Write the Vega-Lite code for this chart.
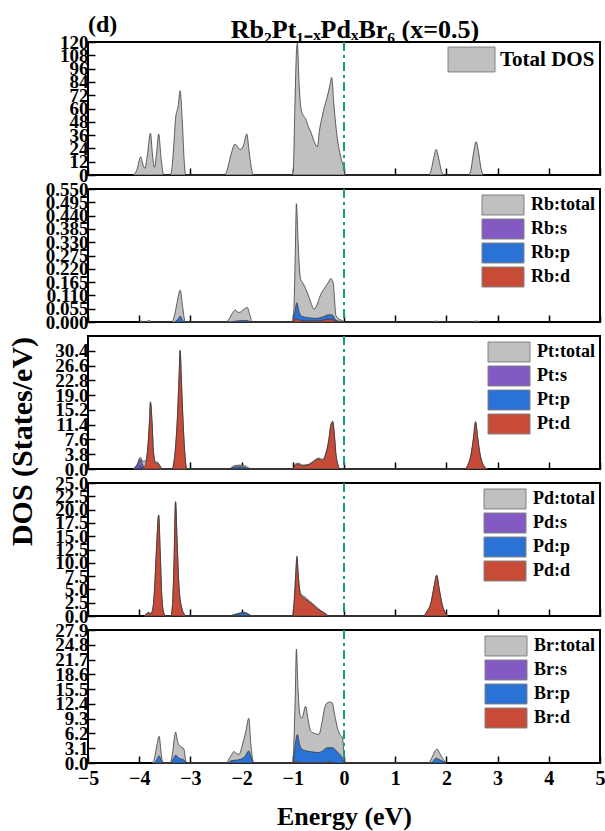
{
"$schema": "https://vega.github.io/schema/vega-lite/v6.json",
"padding": {"left": 5, "top": 12, "right": 3, "bottom": 5},
"bounds": "flush",
"spacing": 14,
"title": {"text": "Rb₂Pt₁₋ₓPdₓBr₆ (x=0.5)", "fontSize": 26, "fontWeight": "bold", "font": "Liberation Serif", "color": "black", "anchor": "middle", "offset": -31, "dx": 49},
"config": {
  "font": "Liberation Serif",
  "view": {"stroke": "black", "strokeWidth": 2},
  "axis": {"domain": false, "grid": false, "ticks": true, "tickColor": "black", "tickWidth": 1.5, "tickSize": -7, "labelFont": "Liberation Serif", "labelFontWeight": "bold", "labelFontSize": 19, "labelColor": "black", "labelOverlap": false, "labelFlush": false, "labelBound": false, "labelPadding": 7, "titleFont": "Liberation Serif", "titleFontWeight": "bold", "titleFontSize": 26, "titleColor": "black"},
  "axisX": {"labelFontSize": 20, "labelPadding": 12},
  "legend": {"labelFont": "Liberation Serif", "labelFontWeight": "bold", "labelFontSize": 18, "labelColor": "black", "symbolType": "M-2,-0.95H2V0.95H-2Z", "symbolSize": 441, "symbolStrokeColor": "#808080", "symbolStrokeWidth": 1, "symbolOpacity": 1, "rowPadding": 0, "labelOffset": 17, "padding": 0, "offset": 5, "orient": "top-right"},
  "title": {"font": "Liberation Serif", "fontWeight": "bold", "color": "black"}
},
"resolve": {"scale": {"color": "independent"}, "legend": {"color": "independent"}},
"datasets": {
  "zero": [{"e": 0}],
  "dos": [
{"k":"Total DOS","e":-4.12,"v":0},{"k":"Total DOS","e":-4.05,"v":4},{"k":"Total DOS","e":-3.97,"v":16.5},{"k":"Total DOS","e":-3.93,"v":10},{"k":"Total DOS","e":-3.89,"v":6},{"k":"Total DOS","e":-3.84,"v":18},{"k":"Total DOS","e":-3.78,"v":37.8},{"k":"Total DOS","e":-3.74,"v":18},{"k":"Total DOS","e":-3.70,"v":7},{"k":"Total DOS","e":-3.66,"v":20},{"k":"Total DOS","e":-3.62,"v":37},{"k":"Total DOS","e":-3.57,"v":14},{"k":"Total DOS","e":-3.52,"v":0},
{"k":"Total DOS","e":-3.40,"v":0},{"k":"Total DOS","e":-3.37,"v":3},{"k":"Total DOS","e":-3.32,"v":30},{"k":"Total DOS","e":-3.29,"v":51},{"k":"Total DOS","e":-3.24,"v":62},{"k":"Total DOS","e":-3.20,"v":76},{"k":"Total DOS","e":-3.16,"v":50},{"k":"Total DOS","e":-3.12,"v":12},{"k":"Total DOS","e":-3.09,"v":0},
{"k":"Total DOS","e":-2.33,"v":0},{"k":"Total DOS","e":-2.28,"v":5},{"k":"Total DOS","e":-2.21,"v":18},{"k":"Total DOS","e":-2.13,"v":27.7},{"k":"Total DOS","e":-2.07,"v":25},{"k":"Total DOS","e":-2.03,"v":23},{"k":"Total DOS","e":-1.96,"v":27},{"k":"Total DOS","e":-1.90,"v":37},{"k":"Total DOS","e":-1.85,"v":20},{"k":"Total DOS","e":-1.80,"v":4},{"k":"Total DOS","e":-1.77,"v":0},
{"k":"Total DOS","e":-1.01,"v":0},{"k":"Total DOS","e":-0.99,"v":5},{"k":"Total DOS","e":-0.96,"v":60},{"k":"Total DOS","e":-0.93,"v":110},{"k":"Total DOS","e":-0.91,"v":119},{"k":"Total DOS","e":-0.88,"v":85},{"k":"Total DOS","e":-0.84,"v":60},{"k":"Total DOS","e":-0.80,"v":54},{"k":"Total DOS","e":-0.75,"v":51},{"k":"Total DOS","e":-0.70,"v":44},{"k":"Total DOS","e":-0.65,"v":39},{"k":"Total DOS","e":-0.58,"v":30},{"k":"Total DOS","e":-0.52,"v":25.6},{"k":"Total DOS","e":-0.48,"v":40},{"k":"Total DOS","e":-0.43,"v":52},{"k":"Total DOS","e":-0.38,"v":62},{"k":"Total DOS","e":-0.33,"v":70},{"k":"Total DOS","e":-0.28,"v":80},{"k":"Total DOS","e":-0.24,"v":88},{"k":"Total DOS","e":-0.20,"v":65},{"k":"Total DOS","e":-0.16,"v":45},{"k":"Total DOS","e":-0.13,"v":33},{"k":"Total DOS","e":-0.08,"v":20},{"k":"Total DOS","e":-0.04,"v":12},{"k":"Total DOS","e":0,"v":6},{"k":"Total DOS","e":0.02,"v":0},
{"k":"Total DOS","e":1.65,"v":0},{"k":"Total DOS","e":1.70,"v":4},{"k":"Total DOS","e":1.75,"v":15},{"k":"Total DOS","e":1.80,"v":23},{"k":"Total DOS","e":1.85,"v":15},{"k":"Total DOS","e":1.90,"v":4},{"k":"Total DOS","e":1.95,"v":0},
{"k":"Total DOS","e":2.43,"v":0},{"k":"Total DOS","e":2.48,"v":5},{"k":"Total DOS","e":2.53,"v":20},{"k":"Total DOS","e":2.58,"v":30},{"k":"Total DOS","e":2.63,"v":20},{"k":"Total DOS","e":2.68,"v":5},{"k":"Total DOS","e":2.72,"v":0},

{"k":"Rb:total","e":-4.0,"v":0},{"k":"Rb:total","e":-3.95,"v":0.004},{"k":"Rb:total","e":-3.9,"v":0},{"k":"Rb:total","e":-3.8,"v":0.006},{"k":"Rb:total","e":-3.75,"v":0},
{"k":"Rb:total","e":-3.38,"v":0},{"k":"Rb:total","e":-3.32,"v":0.02},{"k":"Rb:total","e":-3.26,"v":0.08},{"k":"Rb:total","e":-3.20,"v":0.132},{"k":"Rb:total","e":-3.15,"v":0.06},{"k":"Rb:total","e":-3.10,"v":0},
{"k":"Rb:total","e":-2.30,"v":0},{"k":"Rb:total","e":-2.25,"v":0.01},{"k":"Rb:total","e":-2.17,"v":0.04},{"k":"Rb:total","e":-2.12,"v":0.049},{"k":"Rb:total","e":-2.07,"v":0.04},{"k":"Rb:total","e":-2.04,"v":0.04},{"k":"Rb:total","e":-1.96,"v":0.052},{"k":"Rb:total","e":-1.89,"v":0.06},{"k":"Rb:total","e":-1.84,"v":0.03},{"k":"Rb:total","e":-1.79,"v":0},
{"k":"Rb:total","e":-1.01,"v":0},{"k":"Rb:total","e":-0.98,"v":0.05},{"k":"Rb:total","e":-0.95,"v":0.3},{"k":"Rb:total","e":-0.93,"v":0.489},{"k":"Rb:total","e":-0.90,"v":0.35},{"k":"Rb:total","e":-0.87,"v":0.22},{"k":"Rb:total","e":-0.85,"v":0.18},{"k":"Rb:total","e":-0.80,"v":0.16},{"k":"Rb:total","e":-0.75,"v":0.139},{"k":"Rb:total","e":-0.68,"v":0.1},{"k":"Rb:total","e":-0.62,"v":0.065},{"k":"Rb:total","e":-0.59,"v":0.053},{"k":"Rb:total","e":-0.53,"v":0.07},{"k":"Rb:total","e":-0.46,"v":0.111},{"k":"Rb:total","e":-0.38,"v":0.14},{"k":"Rb:total","e":-0.30,"v":0.165},{"k":"Rb:total","e":-0.26,"v":0.18},{"k":"Rb:total","e":-0.21,"v":0.16},{"k":"Rb:total","e":-0.18,"v":0.08},{"k":"Rb:total","e":-0.16,"v":0.028},{"k":"Rb:total","e":-0.08,"v":0.01},{"k":"Rb:total","e":-0.03,"v":0.005},{"k":"Rb:total","e":0,"v":0},
{"k":"Rb:total","e":1.70,"v":0},{"k":"Rb:total","e":1.80,"v":0.004},{"k":"Rb:total","e":1.90,"v":0},{"k":"Rb:total","e":2.50,"v":0},{"k":"Rb:total","e":2.58,"v":0.004},{"k":"Rb:total","e":2.66,"v":0},
{"k":"Rb:s","e":-1.0,"v":0},{"k":"Rb:s","e":-0.93,"v":0.004},{"k":"Rb:s","e":-0.86,"v":0},
{"k":"Rb:p","e":-3.30,"v":0},{"k":"Rb:p","e":-3.24,"v":0.012},{"k":"Rb:p","e":-3.20,"v":0.024},{"k":"Rb:p","e":-3.16,"v":0.01},{"k":"Rb:p","e":-3.12,"v":0},
{"k":"Rb:p","e":-2.2,"v":0},{"k":"Rb:p","e":-2.12,"v":0.004},{"k":"Rb:p","e":-1.9,"v":0.006},{"k":"Rb:p","e":-1.8,"v":0},
{"k":"Rb:p","e":-1.0,"v":0},{"k":"Rb:p","e":-0.96,"v":0.04},{"k":"Rb:p","e":-0.92,"v":0.08},{"k":"Rb:p","e":-0.88,"v":0.045},{"k":"Rb:p","e":-0.84,"v":0.025},{"k":"Rb:p","e":-0.7,"v":0.018},{"k":"Rb:p","e":-0.55,"v":0.015},{"k":"Rb:p","e":-0.4,"v":0.022},{"k":"Rb:p","e":-0.3,"v":0.03},{"k":"Rb:p","e":-0.22,"v":0.028},{"k":"Rb:p","e":-0.17,"v":0.01},{"k":"Rb:p","e":-0.1,"v":0.003},{"k":"Rb:p","e":0,"v":0},
{"k":"Rb:d","e":-1.0,"v":0},{"k":"Rb:d","e":-0.95,"v":0.01},{"k":"Rb:d","e":-0.9,"v":0.012},{"k":"Rb:d","e":-0.85,"v":0.006},{"k":"Rb:d","e":-0.7,"v":0.004},{"k":"Rb:d","e":-0.5,"v":0.005},{"k":"Rb:d","e":-0.35,"v":0.01},{"k":"Rb:d","e":-0.28,"v":0.012},{"k":"Rb:d","e":-0.2,"v":0.008},{"k":"Rb:d","e":-0.15,"v":0.002},{"k":"Rb:d","e":-0.1,"v":0},

{"k":"Pt:total","e":-4.12,"v":0},{"k":"Pt:total","e":-4.04,"v":1.2},{"k":"Pt:total","e":-3.98,"v":3},{"k":"Pt:total","e":-3.93,"v":2},{"k":"Pt:total","e":-3.88,"v":2},{"k":"Pt:total","e":-3.84,"v":4.5},{"k":"Pt:total","e":-3.80,"v":12.3},{"k":"Pt:total","e":-3.78,"v":17.3},{"k":"Pt:total","e":-3.75,"v":12.3},{"k":"Pt:total","e":-3.72,"v":4.3},{"k":"Pt:total","e":-3.68,"v":1.8},{"k":"Pt:total","e":-3.65,"v":1.8},{"k":"Pt:total","e":-3.60,"v":1},{"k":"Pt:total","e":-3.55,"v":0},
{"k":"Pt:total","e":-3.36,"v":0},{"k":"Pt:total","e":-3.30,"v":4.2},{"k":"Pt:total","e":-3.25,"v":14.3},{"k":"Pt:total","e":-3.22,"v":24.3},{"k":"Pt:total","e":-3.20,"v":30.6},{"k":"Pt:total","e":-3.18,"v":24.3},{"k":"Pt:total","e":-3.15,"v":14.3},{"k":"Pt:total","e":-3.11,"v":4.2},{"k":"Pt:total","e":-3.07,"v":0},
{"k":"Pt:total","e":-2.25,"v":0},{"k":"Pt:total","e":-2.15,"v":0.8},{"k":"Pt:total","e":-2.05,"v":1.0},{"k":"Pt:total","e":-1.95,"v":0.9},{"k":"Pt:total","e":-1.85,"v":0.2},{"k":"Pt:total","e":-1.8,"v":0},
{"k":"Pt:total","e":-1.0,"v":0},{"k":"Pt:total","e":-0.95,"v":1.3},{"k":"Pt:total","e":-0.9,"v":1.5},{"k":"Pt:total","e":-0.8,"v":1.0},{"k":"Pt:total","e":-0.7,"v":1.2},{"k":"Pt:total","e":-0.6,"v":2.0},{"k":"Pt:total","e":-0.5,"v":2.8},{"k":"Pt:total","e":-0.42,"v":2.5},{"k":"Pt:total","e":-0.35,"v":4.3},{"k":"Pt:total","e":-0.3,"v":7.3},{"k":"Pt:total","e":-0.25,"v":11.8},{"k":"Pt:total","e":-0.22,"v":12.3},{"k":"Pt:total","e":-0.19,"v":9.3},{"k":"Pt:total","e":-0.16,"v":4.2},{"k":"Pt:total","e":-0.12,"v":1.2},{"k":"Pt:total","e":-0.08,"v":0},
{"k":"Pt:total","e":2.35,"v":0},{"k":"Pt:total","e":2.42,"v":1.1},{"k":"Pt:total","e":2.48,"v":3.7},{"k":"Pt:total","e":2.53,"v":8.2},{"k":"Pt:total","e":2.57,"v":12.2},{"k":"Pt:total","e":2.61,"v":8.2},{"k":"Pt:total","e":2.66,"v":3.7},{"k":"Pt:total","e":2.72,"v":1.1},{"k":"Pt:total","e":2.80,"v":0},
{"k":"Pt:s","e":-4.10,"v":0},{"k":"Pt:s","e":-4.04,"v":1},{"k":"Pt:s","e":-3.98,"v":2.5},{"k":"Pt:s","e":-3.93,"v":1},{"k":"Pt:s","e":-3.88,"v":0},{"k":"Pt:s","e":-2.15,"v":0},{"k":"Pt:s","e":-2.05,"v":0.3},{"k":"Pt:s","e":-1.95,"v":0},
{"k":"Pt:p","e":-4.05,"v":0},{"k":"Pt:p","e":-3.98,"v":0.8},{"k":"Pt:p","e":-3.90,"v":0},{"k":"Pt:p","e":-2.25,"v":0},{"k":"Pt:p","e":-2.15,"v":0.5},{"k":"Pt:p","e":-2.05,"v":0.6},{"k":"Pt:p","e":-1.95,"v":0.5},{"k":"Pt:p","e":-1.85,"v":0},{"k":"Pt:p","e":-0.95,"v":0},{"k":"Pt:p","e":-0.9,"v":0.3},{"k":"Pt:p","e":-0.8,"v":0},
{"k":"Pt:d","e":-4.0,"v":0},{"k":"Pt:d","e":-3.9,"v":0.5},{"k":"Pt:d","e":-3.84,"v":4},{"k":"Pt:d","e":-3.80,"v":12},{"k":"Pt:d","e":-3.78,"v":17},{"k":"Pt:d","e":-3.75,"v":12},{"k":"Pt:d","e":-3.72,"v":4},{"k":"Pt:d","e":-3.68,"v":1.5},{"k":"Pt:d","e":-3.65,"v":1.5},{"k":"Pt:d","e":-3.60,"v":0.8},{"k":"Pt:d","e":-3.55,"v":0},
{"k":"Pt:d","e":-3.36,"v":0},{"k":"Pt:d","e":-3.30,"v":4},{"k":"Pt:d","e":-3.25,"v":14},{"k":"Pt:d","e":-3.22,"v":24},{"k":"Pt:d","e":-3.20,"v":30.3},{"k":"Pt:d","e":-3.18,"v":24},{"k":"Pt:d","e":-3.15,"v":14},{"k":"Pt:d","e":-3.11,"v":4},{"k":"Pt:d","e":-3.07,"v":0},
{"k":"Pt:d","e":-1.0,"v":0},{"k":"Pt:d","e":-0.95,"v":1.0},{"k":"Pt:d","e":-0.9,"v":1.2},{"k":"Pt:d","e":-0.8,"v":0.8},{"k":"Pt:d","e":-0.7,"v":1.0},{"k":"Pt:d","e":-0.6,"v":1.8},{"k":"Pt:d","e":-0.5,"v":2.5},{"k":"Pt:d","e":-0.42,"v":2.2},{"k":"Pt:d","e":-0.35,"v":4},{"k":"Pt:d","e":-0.3,"v":7},{"k":"Pt:d","e":-0.25,"v":11.5},{"k":"Pt:d","e":-0.22,"v":12},{"k":"Pt:d","e":-0.19,"v":9},{"k":"Pt:d","e":-0.16,"v":4},{"k":"Pt:d","e":-0.12,"v":1},{"k":"Pt:d","e":-0.08,"v":0},
{"k":"Pt:d","e":2.35,"v":0},{"k":"Pt:d","e":2.42,"v":1},{"k":"Pt:d","e":2.48,"v":3.5},{"k":"Pt:d","e":2.53,"v":8},{"k":"Pt:d","e":2.57,"v":12},{"k":"Pt:d","e":2.61,"v":8},{"k":"Pt:d","e":2.66,"v":3.5},{"k":"Pt:d","e":2.72,"v":1},{"k":"Pt:d","e":2.80,"v":0},

{"k":"Pd:total","e":-3.9,"v":0},{"k":"Pd:total","e":-3.85,"v":0.5},{"k":"Pd:total","e":-3.82,"v":0.7},{"k":"Pd:total","e":-3.78,"v":0.5},{"k":"Pd:total","e":-3.74,"v":1.1},{"k":"Pd:total","e":-3.70,"v":5.1},{"k":"Pd:total","e":-3.66,"v":13.1},{"k":"Pd:total","e":-3.62,"v":19},{"k":"Pd:total","e":-3.59,"v":12.1},{"k":"Pd:total","e":-3.56,"v":4.1},{"k":"Pd:total","e":-3.52,"v":0.6},{"k":"Pd:total","e":-3.48,"v":0},
{"k":"Pd:total","e":-3.38,"v":0},{"k":"Pd:total","e":-3.35,"v":2.1},{"k":"Pd:total","e":-3.32,"v":10.1},{"k":"Pd:total","e":-3.29,"v":21.5},{"k":"Pd:total","e":-3.26,"v":14.1},{"k":"Pd:total","e":-3.22,"v":5.1},{"k":"Pd:total","e":-3.17,"v":1.6},{"k":"Pd:total","e":-3.12,"v":0.4},{"k":"Pd:total","e":-3.09,"v":0},
{"k":"Pd:total","e":-2.25,"v":0},{"k":"Pd:total","e":-2.1,"v":0.4},{"k":"Pd:total","e":-1.95,"v":0.7},{"k":"Pd:total","e":-1.85,"v":0.3},{"k":"Pd:total","e":-1.8,"v":0},
{"k":"Pd:total","e":-1.0,"v":0},{"k":"Pd:total","e":-0.97,"v":3.3},{"k":"Pd:total","e":-0.94,"v":8.4},{"k":"Pd:total","e":-0.92,"v":11.3},{"k":"Pd:total","e":-0.89,"v":7.3},{"k":"Pd:total","e":-0.85,"v":4.3},{"k":"Pd:total","e":-0.80,"v":3.8},{"k":"Pd:total","e":-0.75,"v":3.5},{"k":"Pd:total","e":-0.70,"v":3.0},{"k":"Pd:total","e":-0.62,"v":2.4},{"k":"Pd:total","e":-0.55,"v":1.8},{"k":"Pd:total","e":-0.45,"v":1.0},{"k":"Pd:total","e":-0.35,"v":0.4},{"k":"Pd:total","e":-0.3,"v":0},
{"k":"Pd:total","e":1.55,"v":0},{"k":"Pd:total","e":1.62,"v":0.9},{"k":"Pd:total","e":1.70,"v":2.6},{"k":"Pd:total","e":1.76,"v":5.6},{"k":"Pd:total","e":1.81,"v":7.7},{"k":"Pd:total","e":1.86,"v":5.1},{"k":"Pd:total","e":1.92,"v":2.1},{"k":"Pd:total","e":1.98,"v":0.6},{"k":"Pd:total","e":2.02,"v":0},
{"k":"Pd:s","e":-1.0,"v":0},{"k":"Pd:s","e":-0.93,"v":0.2},{"k":"Pd:s","e":-0.85,"v":0},
{"k":"Pd:p","e":-2.25,"v":0},{"k":"Pd:p","e":-2.1,"v":0.3},{"k":"Pd:p","e":-1.95,"v":0.6},{"k":"Pd:p","e":-1.85,"v":0.2},{"k":"Pd:p","e":-1.8,"v":0},{"k":"Pd:p","e":-1.0,"v":0},{"k":"Pd:p","e":-0.93,"v":0.3},{"k":"Pd:p","e":-0.85,"v":0},
{"k":"Pd:d","e":-3.9,"v":0},{"k":"Pd:d","e":-3.85,"v":0.4},{"k":"Pd:d","e":-3.82,"v":0.6},{"k":"Pd:d","e":-3.78,"v":0.4},{"k":"Pd:d","e":-3.74,"v":1},{"k":"Pd:d","e":-3.70,"v":5},{"k":"Pd:d","e":-3.66,"v":13},{"k":"Pd:d","e":-3.62,"v":18.9},{"k":"Pd:d","e":-3.59,"v":12},{"k":"Pd:d","e":-3.56,"v":4},{"k":"Pd:d","e":-3.52,"v":0.5},{"k":"Pd:d","e":-3.48,"v":0},
{"k":"Pd:d","e":-3.38,"v":0},{"k":"Pd:d","e":-3.35,"v":2},{"k":"Pd:d","e":-3.32,"v":10},{"k":"Pd:d","e":-3.29,"v":21.4},{"k":"Pd:d","e":-3.26,"v":14},{"k":"Pd:d","e":-3.22,"v":5},{"k":"Pd:d","e":-3.17,"v":1.5},{"k":"Pd:d","e":-3.12,"v":0.3},{"k":"Pd:d","e":-3.09,"v":0},
{"k":"Pd:d","e":-1.0,"v":0},{"k":"Pd:d","e":-0.97,"v":3},{"k":"Pd:d","e":-0.94,"v":8},{"k":"Pd:d","e":-0.92,"v":10.9},{"k":"Pd:d","e":-0.89,"v":7},{"k":"Pd:d","e":-0.85,"v":4},{"k":"Pd:d","e":-0.80,"v":3.5},{"k":"Pd:d","e":-0.75,"v":3.2},{"k":"Pd:d","e":-0.70,"v":2.8},{"k":"Pd:d","e":-0.62,"v":2.2},{"k":"Pd:d","e":-0.55,"v":1.6},{"k":"Pd:d","e":-0.45,"v":0.9},{"k":"Pd:d","e":-0.35,"v":0.3},{"k":"Pd:d","e":-0.3,"v":0},
{"k":"Pd:d","e":1.55,"v":0},{"k":"Pd:d","e":1.62,"v":0.8},{"k":"Pd:d","e":1.70,"v":2.5},{"k":"Pd:d","e":1.76,"v":5.5},{"k":"Pd:d","e":1.81,"v":7.6},{"k":"Pd:d","e":1.86,"v":5},{"k":"Pd:d","e":1.92,"v":2},{"k":"Pd:d","e":1.98,"v":0.5},{"k":"Pd:d","e":2.02,"v":0},

{"k":"Br:total","e":-3.75,"v":0},{"k":"Br:total","e":-3.70,"v":1},{"k":"Br:total","e":-3.65,"v":4},{"k":"Br:total","e":-3.61,"v":5.6},{"k":"Br:total","e":-3.58,"v":3},{"k":"Br:total","e":-3.55,"v":0.5},{"k":"Br:total","e":-3.52,"v":0},
{"k":"Br:total","e":-3.40,"v":0},{"k":"Br:total","e":-3.35,"v":2},{"k":"Br:total","e":-3.31,"v":5.5},{"k":"Br:total","e":-3.29,"v":6.5},{"k":"Br:total","e":-3.25,"v":4.5},{"k":"Br:total","e":-3.20,"v":3.5},{"k":"Br:total","e":-3.13,"v":3.0},{"k":"Br:total","e":-3.09,"v":0.5},{"k":"Br:total","e":-3.07,"v":0},
{"k":"Br:total","e":-2.30,"v":0},{"k":"Br:total","e":-2.25,"v":0.8},{"k":"Br:total","e":-2.18,"v":2.0},{"k":"Br:total","e":-2.15,"v":2.4},{"k":"Br:total","e":-2.10,"v":2.0},{"k":"Br:total","e":-2.05,"v":1.8},{"k":"Br:total","e":-1.98,"v":4},{"k":"Br:total","e":-1.92,"v":6.5},{"k":"Br:total","e":-1.86,"v":9.4},{"k":"Br:total","e":-1.82,"v":4},{"k":"Br:total","e":-1.78,"v":0.5},{"k":"Br:total","e":-1.76,"v":0},
{"k":"Br:total","e":-1.00,"v":0},{"k":"Br:total","e":-0.98,"v":4},{"k":"Br:total","e":-0.95,"v":15},{"k":"Br:total","e":-0.93,"v":23.9},{"k":"Br:total","e":-0.90,"v":16},{"k":"Br:total","e":-0.86,"v":10},{"k":"Br:total","e":-0.82,"v":9.4},{"k":"Br:total","e":-0.75,"v":11.9},{"k":"Br:total","e":-0.70,"v":9},{"k":"Br:total","e":-0.65,"v":6.7},{"k":"Br:total","e":-0.57,"v":6.2},{"k":"Br:total","e":-0.49,"v":6.0},{"k":"Br:total","e":-0.43,"v":8.5},{"k":"Br:total","e":-0.38,"v":11.5},{"k":"Br:total","e":-0.33,"v":12.6},{"k":"Br:total","e":-0.28,"v":12.8},{"k":"Br:total","e":-0.23,"v":12.6},{"k":"Br:total","e":-0.18,"v":10},{"k":"Br:total","e":-0.13,"v":7.4},{"k":"Br:total","e":-0.08,"v":6},{"k":"Br:total","e":-0.03,"v":5.3},{"k":"Br:total","e":0,"v":2},{"k":"Br:total","e":0.02,"v":0},
{"k":"Br:total","e":1.65,"v":0},{"k":"Br:total","e":1.72,"v":1.2},{"k":"Br:total","e":1.78,"v":2.6},{"k":"Br:total","e":1.82,"v":2.9},{"k":"Br:total","e":1.87,"v":2},{"k":"Br:total","e":1.95,"v":0.6},{"k":"Br:total","e":2.0,"v":0},
{"k":"Br:s","e":-3.70,"v":0},{"k":"Br:s","e":-3.63,"v":0.15},{"k":"Br:s","e":-3.56,"v":0},{"k":"Br:s","e":-3.35,"v":0},{"k":"Br:s","e":-3.29,"v":0.2},{"k":"Br:s","e":-3.22,"v":0},
{"k":"Br:p","e":-3.70,"v":0},{"k":"Br:p","e":-3.65,"v":0.8},{"k":"Br:p","e":-3.61,"v":1.5},{"k":"Br:p","e":-3.57,"v":0.6},{"k":"Br:p","e":-3.53,"v":0},
{"k":"Br:p","e":-3.38,"v":0},{"k":"Br:p","e":-3.33,"v":1},{"k":"Br:p","e":-3.29,"v":1.6},{"k":"Br:p","e":-3.22,"v":1.0},{"k":"Br:p","e":-3.12,"v":0.6},{"k":"Br:p","e":-3.07,"v":0},
{"k":"Br:p","e":-2.28,"v":0},{"k":"Br:p","e":-2.2,"v":0.5},{"k":"Br:p","e":-2.1,"v":0.6},{"k":"Br:p","e":-1.95,"v":1.2},{"k":"Br:p","e":-1.86,"v":2.5},{"k":"Br:p","e":-1.80,"v":0.8},{"k":"Br:p","e":-1.76,"v":0},
{"k":"Br:p","e":-1.0,"v":0},{"k":"Br:p","e":-0.97,"v":2},{"k":"Br:p","e":-0.95,"v":4},{"k":"Br:p","e":-0.91,"v":6.0},{"k":"Br:p","e":-0.87,"v":4},{"k":"Br:p","e":-0.82,"v":2.9},{"k":"Br:p","e":-0.72,"v":2.5},{"k":"Br:p","e":-0.6,"v":2.3},{"k":"Br:p","e":-0.49,"v":2.2},{"k":"Br:p","e":-0.40,"v":2.7},{"k":"Br:p","e":-0.33,"v":3.2},{"k":"Br:p","e":-0.23,"v":3.2},{"k":"Br:p","e":-0.12,"v":2.2},{"k":"Br:p","e":-0.03,"v":1.0},{"k":"Br:p","e":0,"v":0.3},{"k":"Br:p","e":0.02,"v":0},
{"k":"Br:p","e":1.7,"v":0},{"k":"Br:p","e":1.8,"v":1.0},{"k":"Br:p","e":1.9,"v":0.5},{"k":"Br:p","e":2.0,"v":0},
{"k":"Br:d","e":-1.0,"v":0},{"k":"Br:d","e":-0.93,"v":0.3},{"k":"Br:d","e":-0.85,"v":0},{"k":"Br:d","e":-0.4,"v":0},{"k":"Br:d","e":-0.3,"v":0.2},{"k":"Br:d","e":-0.2,"v":0}
  ]
},
"vconcat": [
  {
    "width": 512, "height": 133,
    "title": {"text": "(d)", "anchor": "start", "frame": "group", "fontSize": 24, "offset": -4, "dx": 0},
    "layer": [
      {"data": {"name": "dos"}, "transform": [{"filter": {"field": "k", "equal": "Total DOS"}}],
       "mark": {"type": "area", "interpolate": "monotone", "stroke": "#3a3a3a", "strokeWidth": 0.8},
       "encoding": {
         "x": {"field": "e", "type": "quantitative", "scale": {"domain": [-5, 5]}, "axis": {"values": [-5,-4,-3,-2,-1,0,1,2,3,4,5], "labels": false, "title": null}},
         "y": {"field": "v", "type": "quantitative", "scale": {"domain": [0, 120]}, "axis": {"values": [0,12,24,36,48,60,72,84,96,108,120], "format": "d", "title": null}},
         "color": {"field": "k", "type": "nominal", "scale": {"domain": ["Total DOS"], "range": ["#C0C0C0"]}, "legend": {"title": null, "symbolType": "M-2,-1.06H2V1.06H-2Z", "symbolSize": 552, "labelFontSize": 21, "labelOffset": 16}}
       }},
      {"data": {"name": "zero"}, "mark": {"type": "rule", "color": "#179C82", "strokeWidth": 2, "strokeDash": [9, 4, 3, 4]},
       "encoding": {"x": {"field": "e", "type": "quantitative", "scale": {"domain": [-5, 5]}, "axis": {"values": [-5,-4,-3,-2,-1,0,1,2,3,4,5], "labels": false, "title": null}}}}
    ]
  },
  {
    "width": 512, "height": 133,
    "layer": [
      {"data": {"name": "dos"}, "transform": [{"filter": {"field": "k", "equal": "Rb:total"}}],
       "mark": {"type": "area", "interpolate": "monotone", "stroke": "#3a3a3a", "strokeWidth": 0.8},
       "encoding": {
         "x": {"field": "e", "type": "quantitative", "scale": {"domain": [-5, 5]}, "axis": {"values": [-5,-4,-3,-2,-1,0,1,2,3,4,5], "labels": false, "title": null}},
         "y": {"field": "v", "type": "quantitative", "scale": {"domain": [0, 0.55]}, "axis": {"values": [0,0.055,0.11,0.165,0.22,0.275,0.33,0.385,0.44,0.495,0.55], "format": ".3f", "title": null}},
         "color": {"field": "k", "type": "nominal", "scale": {"domain": ["Rb:total","Rb:s","Rb:p","Rb:d"], "range": ["#C0C0C0","#835AC4","#2A72D6","#C84B38"]}, "legend": {"title": null}}
       }},
      {"data": {"name": "dos"}, "transform": [{"filter": {"field": "k", "equal": "Rb:s"}}],
       "mark": {"type": "area", "interpolate": "monotone", "stroke": "#3a3a3a", "strokeWidth": 0.8},
       "encoding": {"x": {"field": "e", "type": "quantitative", "scale": {"domain": [-5, 5]}, "axis": {"values": [-5,-4,-3,-2,-1,0,1,2,3,4,5], "labels": false, "title": null}}, "y": {"field": "v", "type": "quantitative", "scale": {"domain": [0, 0.55]}, "axis": {"values": [0,0.055,0.11,0.165,0.22,0.275,0.33,0.385,0.44,0.495,0.55], "format": ".3f", "title": null}}, "color": {"field": "k", "type": "nominal", "scale": {"domain": ["Rb:total","Rb:s","Rb:p","Rb:d"], "range": ["#C0C0C0","#835AC4","#2A72D6","#C84B38"]}, "legend": {"title": null}}}},
      {"data": {"name": "dos"}, "transform": [{"filter": {"field": "k", "equal": "Rb:p"}}],
       "mark": {"type": "area", "interpolate": "monotone", "stroke": "#3a3a3a", "strokeWidth": 0.8},
       "encoding": {"x": {"field": "e", "type": "quantitative", "scale": {"domain": [-5, 5]}, "axis": {"values": [-5,-4,-3,-2,-1,0,1,2,3,4,5], "labels": false, "title": null}}, "y": {"field": "v", "type": "quantitative", "scale": {"domain": [0, 0.55]}, "axis": {"values": [0,0.055,0.11,0.165,0.22,0.275,0.33,0.385,0.44,0.495,0.55], "format": ".3f", "title": null}}, "color": {"field": "k", "type": "nominal", "scale": {"domain": ["Rb:total","Rb:s","Rb:p","Rb:d"], "range": ["#C0C0C0","#835AC4","#2A72D6","#C84B38"]}, "legend": {"title": null}}}},
      {"data": {"name": "dos"}, "transform": [{"filter": {"field": "k", "equal": "Rb:d"}}],
       "mark": {"type": "area", "interpolate": "monotone", "stroke": "#3a3a3a", "strokeWidth": 0.8},
       "encoding": {"x": {"field": "e", "type": "quantitative", "scale": {"domain": [-5, 5]}, "axis": {"values": [-5,-4,-3,-2,-1,0,1,2,3,4,5], "labels": false, "title": null}}, "y": {"field": "v", "type": "quantitative", "scale": {"domain": [0, 0.55]}, "axis": {"values": [0,0.055,0.11,0.165,0.22,0.275,0.33,0.385,0.44,0.495,0.55], "format": ".3f", "title": null}}, "color": {"field": "k", "type": "nominal", "scale": {"domain": ["Rb:total","Rb:s","Rb:p","Rb:d"], "range": ["#C0C0C0","#835AC4","#2A72D6","#C84B38"]}, "legend": {"title": null}}}},
      {"data": {"name": "zero"}, "mark": {"type": "rule", "color": "#179C82", "strokeWidth": 2, "strokeDash": [9, 4, 3, 4]},
       "encoding": {"x": {"field": "e", "type": "quantitative", "scale": {"domain": [-5, 5]}, "axis": {"values": [-5,-4,-3,-2,-1,0,1,2,3,4,5], "labels": false, "title": null}}}}
    ]
  },
  {
    "width": 512, "height": 133,
    "layer": [
      {"data": {"name": "dos"}, "transform": [{"filter": {"field": "k", "equal": "Pt:total"}}],
       "mark": {"type": "area", "interpolate": "monotone", "stroke": "#3a3a3a", "strokeWidth": 0.8},
       "encoding": {
         "x": {"field": "e", "type": "quantitative", "scale": {"domain": [-5, 5]}, "axis": {"values": [-5,-4,-3,-2,-1,0,1,2,3,4,5], "labels": false, "title": null}},
         "y": {"field": "v", "type": "quantitative", "scale": {"domain": [0, 34.2]}, "axis": {"values": [0,3.8,7.6,11.4,15.2,19,22.8,26.6,30.4], "format": ".1f", "title": "DOS (States/eV)", "titleFontSize": 30, "titleX": -51, "titleY": 105}},
         "color": {"field": "k", "type": "nominal", "scale": {"domain": ["Pt:total","Pt:s","Pt:p","Pt:d"], "range": ["#C0C0C0","#835AC4","#2A72D6","#C84B38"]}, "legend": {"title": null}}
       }},
      {"data": {"name": "dos"}, "transform": [{"filter": {"field": "k", "equal": "Pt:s"}}],
       "mark": {"type": "area", "interpolate": "monotone", "stroke": "#3a3a3a", "strokeWidth": 0.8},
       "encoding": {"x": {"field": "e", "type": "quantitative", "scale": {"domain": [-5, 5]}, "axis": {"values": [-5,-4,-3,-2,-1,0,1,2,3,4,5], "labels": false, "title": null}}, "y": {"field": "v", "type": "quantitative", "scale": {"domain": [0, 34.2]}, "axis": {"values": [0,3.8,7.6,11.4,15.2,19,22.8,26.6,30.4], "format": ".1f", "title": "DOS (States/eV)", "titleFontSize": 30, "titleX": -51, "titleY": 105}}, "color": {"field": "k", "type": "nominal", "scale": {"domain": ["Pt:total","Pt:s","Pt:p","Pt:d"], "range": ["#C0C0C0","#835AC4","#2A72D6","#C84B38"]}, "legend": {"title": null}}}},
      {"data": {"name": "dos"}, "transform": [{"filter": {"field": "k", "equal": "Pt:p"}}],
       "mark": {"type": "area", "interpolate": "monotone", "stroke": "#3a3a3a", "strokeWidth": 0.8},
       "encoding": {"x": {"field": "e", "type": "quantitative", "scale": {"domain": [-5, 5]}, "axis": {"values": [-5,-4,-3,-2,-1,0,1,2,3,4,5], "labels": false, "title": null}}, "y": {"field": "v", "type": "quantitative", "scale": {"domain": [0, 34.2]}, "axis": {"values": [0,3.8,7.6,11.4,15.2,19,22.8,26.6,30.4], "format": ".1f", "title": "DOS (States/eV)", "titleFontSize": 30, "titleX": -51, "titleY": 105}}, "color": {"field": "k", "type": "nominal", "scale": {"domain": ["Pt:total","Pt:s","Pt:p","Pt:d"], "range": ["#C0C0C0","#835AC4","#2A72D6","#C84B38"]}, "legend": {"title": null}}}},
      {"data": {"name": "dos"}, "transform": [{"filter": {"field": "k", "equal": "Pt:d"}}],
       "mark": {"type": "area", "interpolate": "monotone", "stroke": "#3a3a3a", "strokeWidth": 0.8},
       "encoding": {"x": {"field": "e", "type": "quantitative", "scale": {"domain": [-5, 5]}, "axis": {"values": [-5,-4,-3,-2,-1,0,1,2,3,4,5], "labels": false, "title": null}}, "y": {"field": "v", "type": "quantitative", "scale": {"domain": [0, 34.2]}, "axis": {"values": [0,3.8,7.6,11.4,15.2,19,22.8,26.6,30.4], "format": ".1f", "title": "DOS (States/eV)", "titleFontSize": 30, "titleX": -51, "titleY": 105}}, "color": {"field": "k", "type": "nominal", "scale": {"domain": ["Pt:total","Pt:s","Pt:p","Pt:d"], "range": ["#C0C0C0","#835AC4","#2A72D6","#C84B38"]}, "legend": {"title": null}}}},
      {"data": {"name": "zero"}, "mark": {"type": "rule", "color": "#179C82", "strokeWidth": 2, "strokeDash": [9, 4, 3, 4]},
       "encoding": {"x": {"field": "e", "type": "quantitative", "scale": {"domain": [-5, 5]}, "axis": {"values": [-5,-4,-3,-2,-1,0,1,2,3,4,5], "labels": false, "title": null}}}}
    ]
  },
  {
    "width": 512, "height": 133,
    "layer": [
      {"data": {"name": "dos"}, "transform": [{"filter": {"field": "k", "equal": "Pd:total"}}],
       "mark": {"type": "area", "interpolate": "monotone", "stroke": "#3a3a3a", "strokeWidth": 0.8},
       "encoding": {
         "x": {"field": "e", "type": "quantitative", "scale": {"domain": [-5, 5]}, "axis": {"values": [-5,-4,-3,-2,-1,0,1,2,3,4,5], "labels": false, "title": null}},
         "y": {"field": "v", "type": "quantitative", "scale": {"domain": [0, 25]}, "axis": {"values": [0,2.5,5,7.5,10,12.5,15,17.5,20,22.5,25], "format": ".1f", "title": null}},
         "color": {"field": "k", "type": "nominal", "scale": {"domain": ["Pd:total","Pd:s","Pd:p","Pd:d"], "range": ["#C0C0C0","#835AC4","#2A72D6","#C84B38"]}, "legend": {"title": null}}
       }},
      {"data": {"name": "dos"}, "transform": [{"filter": {"field": "k", "equal": "Pd:s"}}],
       "mark": {"type": "area", "interpolate": "monotone", "stroke": "#3a3a3a", "strokeWidth": 0.8},
       "encoding": {"x": {"field": "e", "type": "quantitative", "scale": {"domain": [-5, 5]}, "axis": {"values": [-5,-4,-3,-2,-1,0,1,2,3,4,5], "labels": false, "title": null}}, "y": {"field": "v", "type": "quantitative", "scale": {"domain": [0, 25]}, "axis": {"values": [0,2.5,5,7.5,10,12.5,15,17.5,20,22.5,25], "format": ".1f", "title": null}}, "color": {"field": "k", "type": "nominal", "scale": {"domain": ["Pd:total","Pd:s","Pd:p","Pd:d"], "range": ["#C0C0C0","#835AC4","#2A72D6","#C84B38"]}, "legend": {"title": null}}}},
      {"data": {"name": "dos"}, "transform": [{"filter": {"field": "k", "equal": "Pd:p"}}],
       "mark": {"type": "area", "interpolate": "monotone", "stroke": "#3a3a3a", "strokeWidth": 0.8},
       "encoding": {"x": {"field": "e", "type": "quantitative", "scale": {"domain": [-5, 5]}, "axis": {"values": [-5,-4,-3,-2,-1,0,1,2,3,4,5], "labels": false, "title": null}}, "y": {"field": "v", "type": "quantitative", "scale": {"domain": [0, 25]}, "axis": {"values": [0,2.5,5,7.5,10,12.5,15,17.5,20,22.5,25], "format": ".1f", "title": null}}, "color": {"field": "k", "type": "nominal", "scale": {"domain": ["Pd:total","Pd:s","Pd:p","Pd:d"], "range": ["#C0C0C0","#835AC4","#2A72D6","#C84B38"]}, "legend": {"title": null}}}},
      {"data": {"name": "dos"}, "transform": [{"filter": {"field": "k", "equal": "Pd:d"}}],
       "mark": {"type": "area", "interpolate": "monotone", "stroke": "#3a3a3a", "strokeWidth": 0.8},
       "encoding": {"x": {"field": "e", "type": "quantitative", "scale": {"domain": [-5, 5]}, "axis": {"values": [-5,-4,-3,-2,-1,0,1,2,3,4,5], "labels": false, "title": null}}, "y": {"field": "v", "type": "quantitative", "scale": {"domain": [0, 25]}, "axis": {"values": [0,2.5,5,7.5,10,12.5,15,17.5,20,22.5,25], "format": ".1f", "title": null}}, "color": {"field": "k", "type": "nominal", "scale": {"domain": ["Pd:total","Pd:s","Pd:p","Pd:d"], "range": ["#C0C0C0","#835AC4","#2A72D6","#C84B38"]}, "legend": {"title": null}}}},
      {"data": {"name": "zero"}, "mark": {"type": "rule", "color": "#179C82", "strokeWidth": 2, "strokeDash": [9, 4, 3, 4]},
       "encoding": {"x": {"field": "e", "type": "quantitative", "scale": {"domain": [-5, 5]}, "axis": {"values": [-5,-4,-3,-2,-1,0,1,2,3,4,5], "labels": false, "title": null}}}}
    ]
  },
  {
    "width": 512, "height": 133,
    "layer": [
      {"data": {"name": "dos"}, "transform": [{"filter": {"field": "k", "equal": "Br:total"}}],
       "mark": {"type": "area", "interpolate": "monotone", "stroke": "#3a3a3a", "strokeWidth": 0.8},
       "encoding": {
         "x": {"field": "e", "type": "quantitative", "scale": {"domain": [-5, 5]}, "axis": {"values": [-5,-4,-3,-2,-1,0,1,2,3,4,5], "format": "d", "title": "Energy (eV)", "titlePadding": 15}},
         "y": {"field": "v", "type": "quantitative", "scale": {"domain": [0, 27.9]}, "axis": {"values": [0,3.1,6.2,9.3,12.4,15.5,18.6,21.7,24.8,27.9], "format": ".1f", "title": null}},
         "color": {"field": "k", "type": "nominal", "scale": {"domain": ["Br:total","Br:s","Br:p","Br:d"], "range": ["#C0C0C0","#835AC4","#2A72D6","#C84B38"]}, "legend": {"title": null}}
       }},
      {"data": {"name": "dos"}, "transform": [{"filter": {"field": "k", "equal": "Br:s"}}],
       "mark": {"type": "area", "interpolate": "monotone", "stroke": "#3a3a3a", "strokeWidth": 0.8},
       "encoding": {"x": {"field": "e", "type": "quantitative", "scale": {"domain": [-5, 5]}, "axis": {"values": [-5,-4,-3,-2,-1,0,1,2,3,4,5], "format": "d", "title": "Energy (eV)", "titlePadding": 15}}, "y": {"field": "v", "type": "quantitative", "scale": {"domain": [0, 27.9]}, "axis": {"values": [0,3.1,6.2,9.3,12.4,15.5,18.6,21.7,24.8,27.9], "format": ".1f", "title": null}}, "color": {"field": "k", "type": "nominal", "scale": {"domain": ["Br:total","Br:s","Br:p","Br:d"], "range": ["#C0C0C0","#835AC4","#2A72D6","#C84B38"]}, "legend": {"title": null}}}},
      {"data": {"name": "dos"}, "transform": [{"filter": {"field": "k", "equal": "Br:p"}}],
       "mark": {"type": "area", "interpolate": "monotone", "stroke": "#3a3a3a", "strokeWidth": 0.8},
       "encoding": {"x": {"field": "e", "type": "quantitative", "scale": {"domain": [-5, 5]}, "axis": {"values": [-5,-4,-3,-2,-1,0,1,2,3,4,5], "format": "d", "title": "Energy (eV)", "titlePadding": 15}}, "y": {"field": "v", "type": "quantitative", "scale": {"domain": [0, 27.9]}, "axis": {"values": [0,3.1,6.2,9.3,12.4,15.5,18.6,21.7,24.8,27.9], "format": ".1f", "title": null}}, "color": {"field": "k", "type": "nominal", "scale": {"domain": ["Br:total","Br:s","Br:p","Br:d"], "range": ["#C0C0C0","#835AC4","#2A72D6","#C84B38"]}, "legend": {"title": null}}}},
      {"data": {"name": "dos"}, "transform": [{"filter": {"field": "k", "equal": "Br:d"}}],
       "mark": {"type": "area", "interpolate": "monotone", "stroke": "#3a3a3a", "strokeWidth": 0.8},
       "encoding": {"x": {"field": "e", "type": "quantitative", "scale": {"domain": [-5, 5]}, "axis": {"values": [-5,-4,-3,-2,-1,0,1,2,3,4,5], "format": "d", "title": "Energy (eV)", "titlePadding": 15}}, "y": {"field": "v", "type": "quantitative", "scale": {"domain": [0, 27.9]}, "axis": {"values": [0,3.1,6.2,9.3,12.4,15.5,18.6,21.7,24.8,27.9], "format": ".1f", "title": null}}, "color": {"field": "k", "type": "nominal", "scale": {"domain": ["Br:total","Br:s","Br:p","Br:d"], "range": ["#C0C0C0","#835AC4","#2A72D6","#C84B38"]}, "legend": {"title": null}}}},
      {"data": {"name": "zero"}, "mark": {"type": "rule", "color": "#179C82", "strokeWidth": 2, "strokeDash": [9, 4, 3, 4]},
       "encoding": {"x": {"field": "e", "type": "quantitative", "scale": {"domain": [-5, 5]}, "axis": {"values": [-5,-4,-3,-2,-1,0,1,2,3,4,5], "format": "d", "title": "Energy (eV)", "titlePadding": 15}}}}
    ]
  }
]
}
